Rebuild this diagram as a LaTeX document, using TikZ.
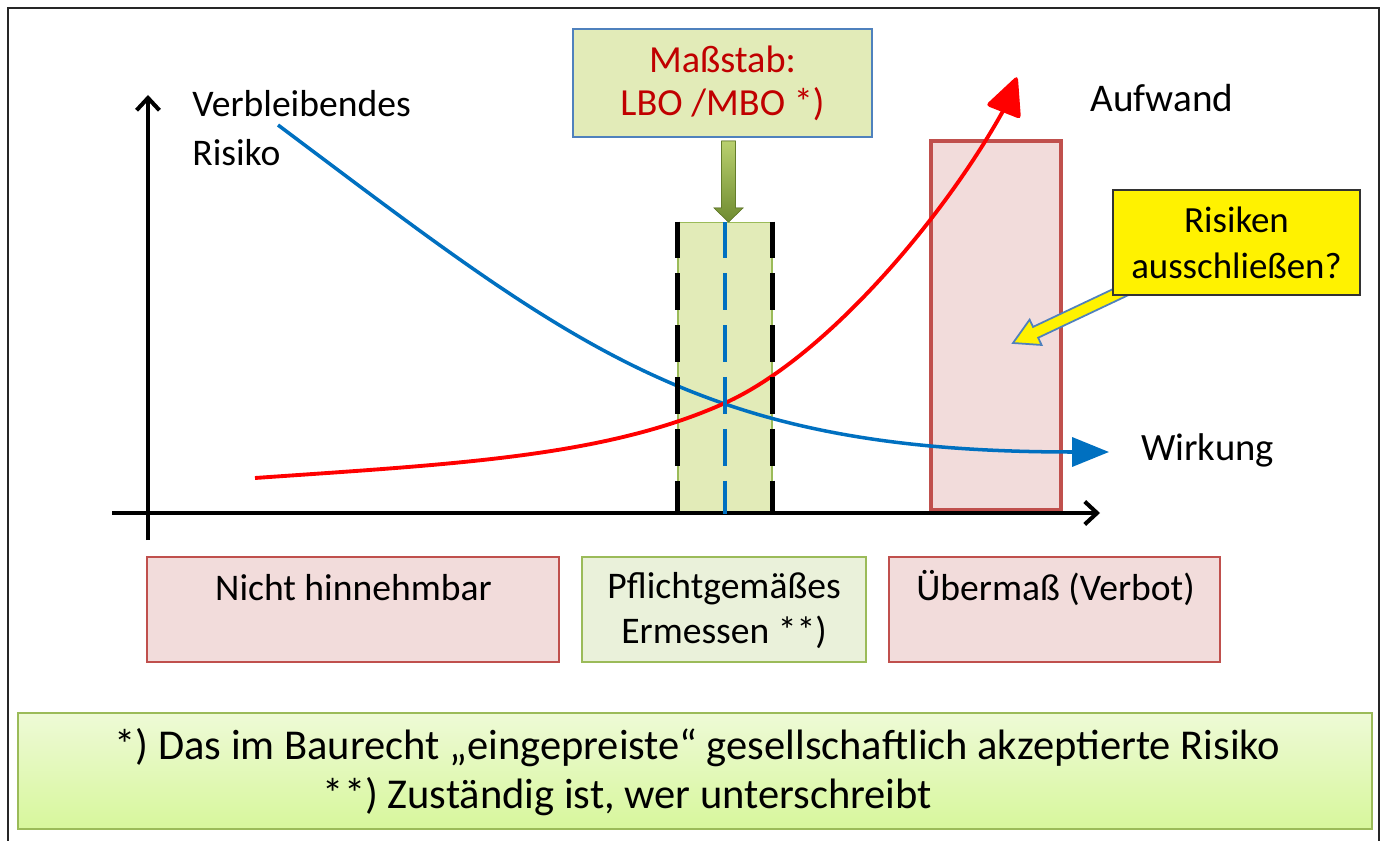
\documentclass[tikz,border=0pt]{standalone}
\usepackage{fontspec}
\setmainfont{Carlito}
\usetikzlibrary{arrows.meta}
\definecolor{pinkfill}{HTML}{F2DCDB}
\definecolor{pinkline}{HTML}{C0504D}
\definecolor{olivefill}{HTML}{E2EBB8}
\definecolor{greenline}{HTML}{9BBB59}
\definecolor{blueline}{HTML}{4F81BD}
\definecolor{curveblue}{HTML}{0070C0}
\definecolor{darkred}{HTML}{C00000}
\definecolor{lightgreen}{HTML}{EAF1DA}
\definecolor{arrowlight}{HTML}{B9D06E}
\definecolor{arrowdark}{HTML}{6F8B30}
\definecolor{fntop}{HTML}{EEFAD6}
\definecolor{fnbot}{HTML}{D7F79C}
\begin{document}
\begin{tikzpicture}[x=0.02cm,y=-0.02cm,
  txt/.style={font=\fontsize{21.4}{25.5}\selectfont, align=center, inner sep=0pt, text=black},
  rbox/.style={rectangle, inner sep=0pt},
  pinkbox/.style={rbox, draw=pinkline, fill=pinkfill, line width=0.8pt},
  greenbox/.style={rbox, draw=greenline, fill=lightgreen, line width=0.8pt},
  axis/.style={line width=2.3pt, -{Straight Barb[length=7pt,width=13pt]}},
  dashblack/.style={black, line width=3pt, dash pattern=on 21pt off 8.5pt},
  dashblue/.style={curveblue, line width=1.8pt, dash pattern=on 21pt off 8.5pt},
  bluecurve/.style={curveblue, line width=2pt},
  redcurve/.style={red, line width=2.2pt}
]
\useasboundingbox (0,0) rectangle (1383,841);
% frame
\draw[black!85, line width=0.9pt] (8,841) -- (8,8) -- (1379,8) -- (1379,841);

% boxes in the chart
\node[rbox, draw=greenline, fill=olivefill, line width=0.6pt, minimum width=1.88cm, minimum height=5.82cm] (col) at (725,367.5) {};
\node[pinkbox, line width=1.8pt, minimum width=2.6cm, minimum height=7.38cm] (tall) at (996,325.5) {};

% axes
\coordinate (yb) at (148,540);
\coordinate (yt) at (148,95);
\coordinate (xl) at (112,513);
\coordinate (xr) at (1100,513);
\draw[axis] (yb) -- (yt);
\draw[axis] (xl) -- (xr);

% blue curve (remaining risk)
\coordinate (bs) at (278,125);
\coordinate (be) at (1109,452);
\draw[bluecurve, -{Triangle[length=21pt,width=16.5pt]}] (bs) .. controls (578,350) and (700,452) .. (be);

% red curve (effort)
\coordinate (rs) at (255,478);
\coordinate (rm) at (725,403);
\coordinate (redbase) at (1003,111);
\draw[redcurve] (rs) .. controls (455,464) and (605,457) .. (rm)
  .. controls (825,358) and (943,219) .. (redbase);
\filldraw[red, line width=1pt, rounded corners=1.5pt] (1017,77) -- (987,105) -- (1020,118) -- cycle;

% dashed lines of the column
\draw[dashblack] (col.north west) -- (col.south west);
\draw[dashblack] (col.north east) -- (col.south east);
\draw[dashblue] (col.north) -- (col.south);

% top box and green arrow
\node[rbox, draw=blueline, fill=olivefill, line width=0.8pt, minimum width=5.98cm, minimum height=2.16cm,
  font=\fontsize{21.8}{24.4}\selectfont, text=darkred, align=center] (mass) at (722.5,83) {Maßstab:\\LBO /MBO *)};
\fill[top color=arrowlight, bottom color=arrowdark, draw=arrowdark!90!black, line width=0.4pt]
  (721.5,141) -- (735.5,141) -- (735.5,208) -- (743,208) -- (728.5,222) -- (714,208) -- (721.5,208) -- cycle;

% yellow box and arrow
\begin{scope}[shift={(1013,343)}, rotate=25.3]
  \filldraw[fill=yellow, draw=blueline, line width=1pt, line join=miter]
    (0,0) -- (25,14) -- (25,6) -- (130,6) -- (130,-6) -- (25,-6) -- (25,-14) -- cycle;
\end{scope}
\node[rbox, draw=black!80, fill=yellow, line width=0.7pt, minimum width=4.94cm, minimum height=2.1cm,
  font=\fontsize{21}{26}\selectfont, align=center] (yel) at (1236.5,242.5) {Risiken\\ausschließen?};

% labels
\node[txt, anchor=west, align=left, font=\fontsize{21.4}{27.8}\selectfont] (vr) at (192,128) {Verbleibendes\\Risiko};
\node[txt, font=\fontsize{22.3}{26}\selectfont] (aufw) at (1162,98) {Aufwand};
\node[txt, font=\fontsize{22}{26}\selectfont] (wirk) at (1207.5,450) {Wirkung};

% bottom boxes
\node[pinkbox, minimum width=8.24cm, minimum height=2.1cm] (b1) at (353,609.5) {};
\node[greenbox, minimum width=5.68cm, minimum height=2.1cm] (b2) at (724,609.5) {};
\node[pinkbox, minimum width=6.62cm, minimum height=2.1cm] (b3) at (1054.5,609.5) {};
\node[txt] (t1) at (353.5,588) {Nicht hinnehmbar};
\node[txt] (t2) at (724,610.5) {Pflichtgemäßes\\Ermessen **)};
\node[txt] (t3) at (1055.5,588) {Übermaß (Verbot)};

% footnote
\node[rbox, top color=fntop, bottom color=fnbot, draw=greenline, line width=1.2pt, minimum width=27.08cm, minimum height=2.32cm] (fn) at (695,771) {};
\node[txt, font=\fontsize{24.2}{28}\selectfont] (f1) at (697.5,748) {*) Das im Baurecht „eingepreiste“ gesellschaftlich akzeptierte Risiko};
\node[txt, font=\fontsize{24.2}{28}\selectfont] (f2) at (627.5,797) {**) Zuständig ist, wer unterschreibt};
\end{tikzpicture}
\end{document}
